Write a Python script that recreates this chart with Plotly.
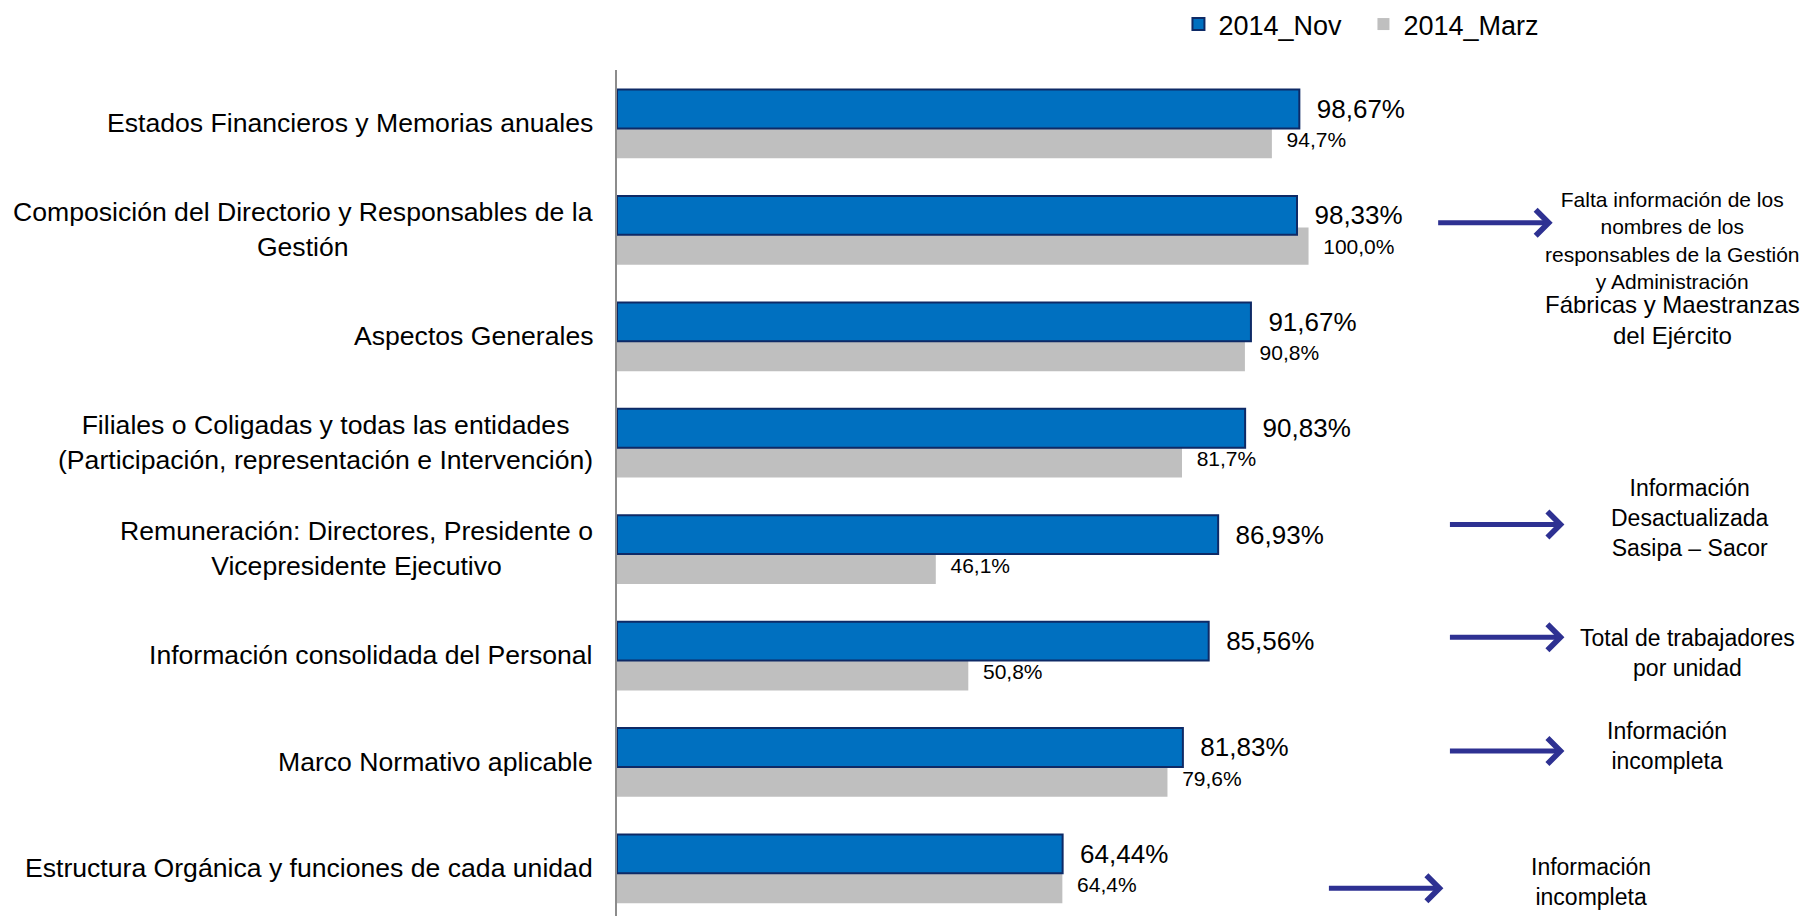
import plotly.graph_objects as go

# ---------------- data ----------------
categories = [
    "Estados Financieros y Memorias anuales",
    "Composición del Directorio y Responsables de la<br>Gestión",
    "Aspectos Generales",
    "Filiales o Coligadas y todas las entidades<br>(Participación, representación e Intervención)",
    "Remuneración: Directores, Presidente o<br>Vicepresidente Ejecutivo",
    "Información consolidada del Personal",
    "Marco Normativo aplicable",
    "Estructura Orgánica y funciones de cada unidad",
]
nov_2014 = [98.67, 98.33, 91.67, 90.83, 86.93, 85.56, 81.83, 64.44]
marz_2014 = [94.7, 100.0, 90.8, 81.7, 46.1, 50.8, 79.6, 64.4]
series_names = ["2014_Nov", "2014_Marz"]

note_texts = [
    "Falta información de los<br>nombres de los<br>responsables de la Gestión<br>y Administración",
    "Fábricas y Maestranzas<br>del Ejército",
    "Información<br>Desactualizada<br>Sasipa – Sacor",
    "Total de trabajadores<br>por unidad",
    "Información<br>incompleta",
    "Información<br>incompleta",
]

# ---------------- style ----------------
FONT = "Liberation Sans, Arial, sans-serif"
BLUE = "#0070C0"
BLUE_EDGE = "#0E2A66"
GRAY = "#BFBFBF"
ARROW = "#2E3192"
PAD = "\u00a0\u00a0"


def fmt(v, d):
    return PAD + f"{v:.{d}f}".replace(".", ",") + "%"


fig = go.Figure()

fig.add_trace(go.Bar(
    name=series_names[1], y=categories, x=marz_2014, orientation="h",
    offset=-0.02, width=0.35,
    marker=dict(color=GRAY, line=dict(width=0)),
    text=[fmt(v, 1) for v in marz_2014], textposition="outside",
    textfont=dict(family=FONT, size=21, color="#000000"),
    constraintext="none", cliponaxis=False, legendrank=2,
))
fig.add_trace(go.Bar(
    name=series_names[0], y=categories, x=nov_2014, orientation="h",
    offset=-0.316, width=0.365,
    marker=dict(color=BLUE, line=dict(color=BLUE_EDGE, width=2)),
    text=[fmt(v, 2) for v in nov_2014], textposition="outside",
    textfont=dict(family=FONT, size=26, color="#000000"),
    constraintext="none", cliponaxis=False, legendrank=1,
))

annotations = []
# category labels (centered multi-line, right of the axis)
for c in categories:
    annotations.append(dict(
        x=0, y=c, xref="x", yref="y", text=c, showarrow=False,
        xanchor="right", yanchor="middle", align="center", xshift=-22,
        font=dict(family=FONT, size=26.6, color="#000000"),
    ))

# notes: (x, y, font size)
note_pos = [
    (152.6, 1.10, 21),
    (152.6, 1.845, 24),
    (155.1, 3.71, 23),
    (154.8, 4.98, 23),
    (151.8, 5.855, 23),
    (140.9, 7.135, 23),
]
for t, (nx, ny, fs) in zip(note_texts, note_pos):
    annotations.append(dict(
        x=nx, y=ny, xref="x", yref="y", text=t, showarrow=False,
        xanchor="center", yanchor="middle", align="center",
        font=dict(family=FONT, size=fs, color="#000000"),
    ))

# arrows: (head x, y)
arrow_pos = [(135.3, 0.935), (137.0, 3.77), (137.0, 4.83), (137.0, 5.90), (119.5, 7.19)]
for hx, hy in arrow_pos:
    annotations.append(dict(
        x=hx, y=hy, xref="x", yref="y", text="", showarrow=True,
        ax=-116, ay=0, arrowhead=4, arrowsize=1.0, arrowwidth=5,
        arrowcolor=ARROW, standoff=0,
    ))

fig.update_layout(
    width=1803, height=916,
    margin=dict(l=617, r=0, t=68, b=0),
    paper_bgcolor="white", plot_bgcolor="white",
    barmode="overlay",
    font=dict(family=FONT, color="#000000"),
    xaxis=dict(visible=False, range=[0, 171.5]),
    yaxis=dict(
        type="category", categoryorder="array", categoryarray=categories,
        range=[7.45, -0.5], showticklabels=False, ticks="",
        showgrid=False, zeroline=False,
        showline=True, linecolor="#8C8C8C", linewidth=2,
    ),
    showlegend=True,
    legend=dict(
        orientation="h", x=0.4734, xanchor="left", y=1.054, yanchor="middle",
        font=dict(family=FONT, size=27, color="#000000"),
        entrywidth=140, entrywidthmode="pixels",
        bgcolor="rgba(0,0,0,0)",
    ),
    annotations=annotations,
)

fig.write_html(
    "out.html",
    config={"displayModeBar": False},
    post_script="document.body.style.margin='0';document.body.style.overflow='hidden';",
)
